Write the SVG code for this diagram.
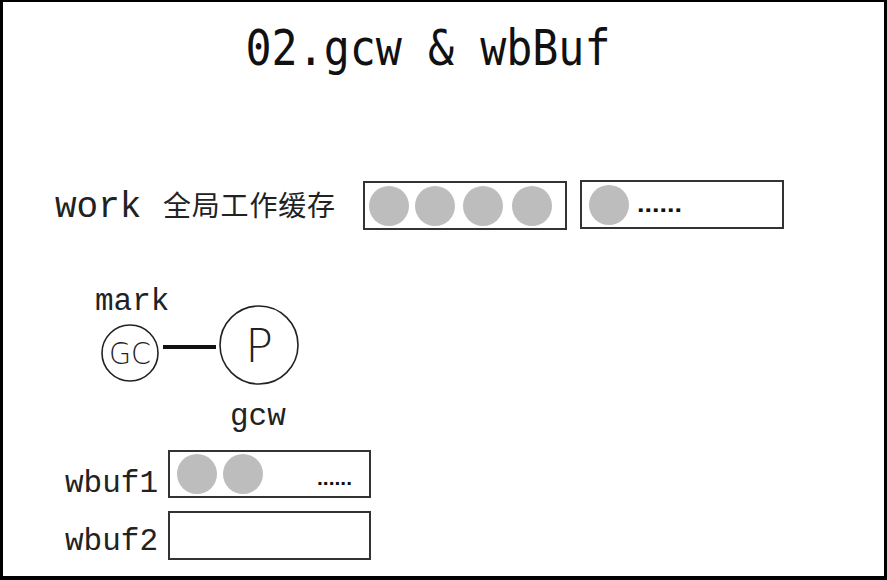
<svg xmlns="http://www.w3.org/2000/svg" width="887" height="580" viewBox="0 0 887 580">
<style>
.mono{font-family:"Liberation Mono","Courier New",monospace;fill:#222}
.cjk{font-family:"Noto Sans CJK SC",sans-serif;fill:#222}
.box{fill:#fff;stroke:#333;stroke-width:2}
.ball{fill:#bdbdbd}
.ring{fill:#fff;stroke:#222;stroke-width:1.6}
.dots{font-family:"Liberation Sans",sans-serif;font-weight:bold;fill:#111}
.thin{font-family:"DejaVu Sans",sans-serif;font-weight:300;fill:#222}
</style>
<rect x="0" y="0" width="887" height="580" fill="#000"/>
<rect x="3" y="2" width="881" height="574" fill="#fff"/>
<text x="428" y="65" text-anchor="middle" font-family="DejaVu Sans Mono, monospace" font-size="50" fill="#111" textLength="365" lengthAdjust="spacingAndGlyphs">02.gcw &amp; wbBuf</text>

<g id="work">
<text class="mono" x="55" y="217" font-size="36">work</text>
<text class="cjk" x="163" y="216" font-size="28" textLength="172">全局工作缓存</text>
</g>
<g id="workbuf1">
<rect class="box" x="364" y="182" width="202" height="47"/>
<circle class="ball" cx="389" cy="206" r="20"/>
<circle class="ball" cx="435" cy="206" r="20"/>
<circle class="ball" cx="483" cy="206" r="20"/>
<circle class="ball" cx="532" cy="206" r="20"/>
</g>
<g id="workbuf2">
<rect class="box" x="581" y="181" width="202" height="47"/>
<circle class="ball" cx="609" cy="205" r="20"/>
<text class="dots" x="637" y="212" font-size="24" textLength="45" lengthAdjust="spacingAndGlyphs">......</text>
</g>

<g id="gc">
<text class="mono" x="95" y="310" font-size="31">mark</text>
<circle class="ring" cx="130" cy="353" r="28"/>
<text class="thin" x="130" y="364" text-anchor="middle" font-size="30" textLength="42" lengthAdjust="spacingAndGlyphs">GC</text>
</g>
<g id="p">
<circle class="ring" cx="259" cy="345" r="39"/>
<text class="thin" x="259" y="362" text-anchor="middle" font-size="46">P</text>
<text class="mono" x="230" y="425" font-size="31">gcw</text>
</g>
<g id="connectors">
<line x1="163" y1="347" x2="216" y2="347" stroke="#111" stroke-width="4"/>
</g>

<g id="wbuf1">
<text class="mono" x="65" y="492" font-size="31">wbuf1</text>
<rect class="box" x="169" y="451" width="201" height="46"/>
<circle class="ball" cx="197" cy="474" r="20"/>
<circle class="ball" cx="243" cy="474" r="20"/>
<text class="dots" x="317" y="485" font-size="20" textLength="35" lengthAdjust="spacingAndGlyphs">......</text>
</g>
<g id="wbuf2">
<text class="mono" x="65" y="550" font-size="31">wbuf2</text>
<rect class="box" x="169" y="512" width="201" height="47"/>
</g>
</svg>
